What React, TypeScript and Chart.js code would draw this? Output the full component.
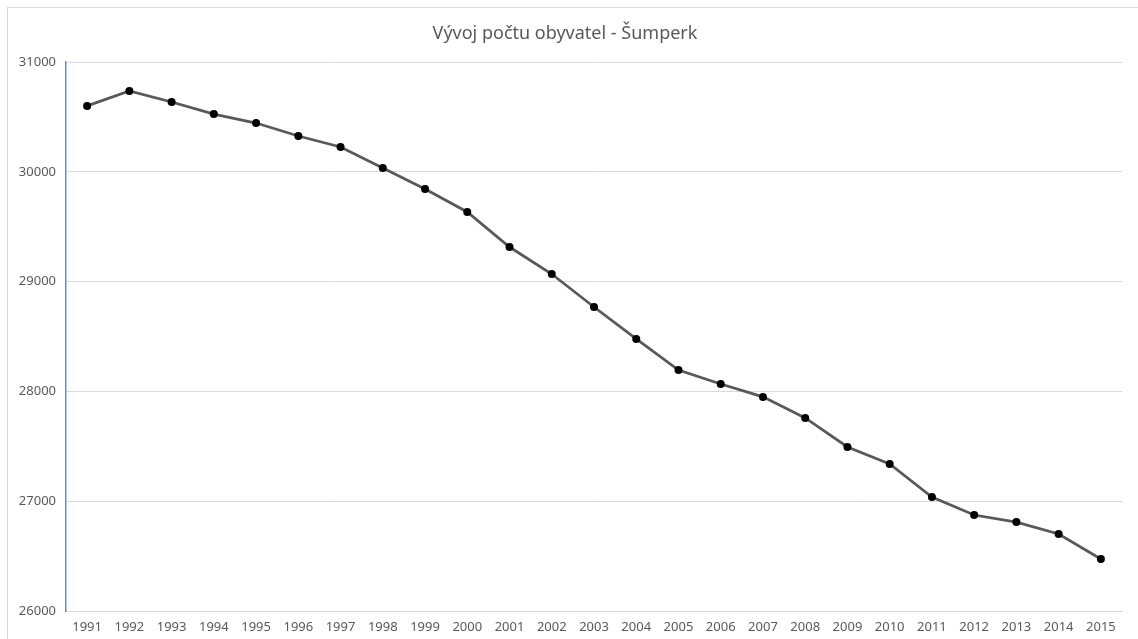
import React, { useEffect, useRef } from "react";
import { Chart, registerables } from "chart.js";

Chart.register(...registerables);

const titleText = "Vývoj počtu obyvatel - Šumperk";
const years = [
  "1991", "1992", "1993", "1994", "1995", "1996", "1997", "1998", "1999", "2000",
  "2001", "2002", "2003", "2004", "2005", "2006", "2007", "2008", "2009", "2010",
  "2011", "2012", "2013", "2014", "2015",
];
const population = [
  30600, 30736, 30636, 30526, 30444, 30326, 30226, 30035, 29843, 29634,
  29315, 29069, 28769, 28478, 28195, 28068, 27950, 27758, 27494, 27339,
  27038, 26874, 26810, 26701, 26474,
];
const yMin = 26000;
const yMax = 31000;
const yStep = 1000;

export default function App() {
  const ref = useRef<HTMLCanvasElement | null>(null);
  useEffect(() => {
    if (!ref.current) return;
    const font = "'Noto Sans', 'Open Sans', sans-serif";
    const chart = new Chart(ref.current, {
      type: "line",
      data: {
        labels: years,
        datasets: [
          {
            data: population,
            borderColor: "#595959",
            borderWidth: 2.75,
            pointBackgroundColor: "#000000",
            pointBorderColor: "#000000",
            pointRadius: 4,
            pointBorderWidth: 0,
            tension: 0,
            fill: false,
          },
        ],
      },
      options: {
        animation: false,
        responsive: false,
        maintainAspectRatio: false,
        layout: { padding: { left: 0, right: 16, top: 0, bottom: 0 } },
        plugins: {
          legend: { display: false },
          tooltip: { enabled: false },
          title: {
            display: true,
            text: titleText,
            color: "#595959",
            font: { family: font, size: 18, weight: "normal" },
            padding: { top: 15, bottom: 17.4 },
          },
        },
        scales: {
          x: {
            offset: true,
            grid: { display: false, drawTicks: false },
            border: { display: true, color: "#d9d9d9", width: 1 },
            ticks: {
              color: "#595959",
              font: { family: font, size: 13 },
              padding: 8,
              maxRotation: 0,
              autoSkip: false,
            },
            afterFit: (s: any) => {
              s.height = 28;
            },
          },
          y: {
            min: yMin,
            max: yMax,
            grid: { color: "#d9d9d9", drawTicks: false, lineWidth: 1 },
            border: { display: true, color: "#5b8fd6", width: 1.5 },
            ticks: {
              stepSize: yStep,
              color: "#595959",
              font: { family: font, size: 13 },
              padding: 10,
              callback: (v: any) => String(v),
            },
            afterFit: (s: any) => {
              s.width = 58;
            },
          },
        },
      },
    });
    return () => chart.destroy();
  }, []);
  return (
    <div
      style={{
        position: "absolute",
        left: 7,
        top: 7,
        width: 1140,
        height: 640,
        borderTop: "1px solid #d9d9d9",
        borderLeft: "1px solid #d9d9d9",
        background: "#ffffff",
        boxSizing: "border-box",
      }}
    >
      <canvas
        ref={ref}
        width={1130}
        height={631}
        style={{ position: "absolute", left: 0, top: 0, width: 1130, height: 631 }}
      />
    </div>
  );
}
